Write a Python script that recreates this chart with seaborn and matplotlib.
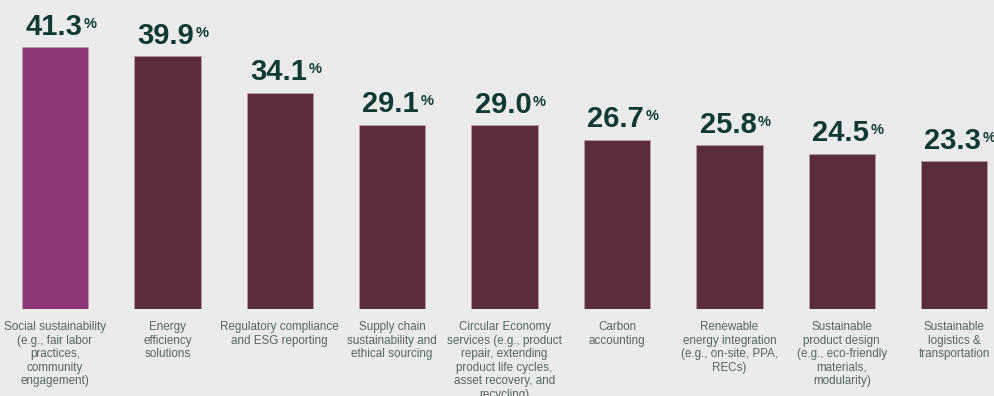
import matplotlib
matplotlib.use("Agg")
import matplotlib.pyplot as plt
import seaborn as sns

categories = [
    "Social sustainability\n(e.g., fair labor\npractices,\ncommunity\nengagement)",
    "Energy\nefficiency\nsolutions",
    "Regulatory compliance\nand ESG reporting",
    "Supply chain\nsustainability and\nethical sourcing",
    "Circular Economy\nservices (e.g., product\nrepair, extending\nproduct life cycles,\nasset recovery, and\nrecycling)",
    "Carbon\naccounting",
    "Renewable\nenergy integration\n(e.g., on-site, PPA,\nRECs)",
    "Sustainable\nproduct design\n(e.g., eco-friendly\nmaterials,\nmodularity)",
    "Sustainable\nlogistics &\ntransportation",
]
values = [41.3, 39.9, 34.1, 29.1, 29.0, 26.7, 25.8, 24.5, 23.3]
bar_colors = ["#8E3879"] + ["#5A2C3D"] * 8

BG = "#EBEBEB"
LABEL_COLOR = "#0F3A33"
TICK_COLOR = "#55655F"

sns.set_theme(style="white")
plt.rcParams["font.family"] = ["Liberation Sans", "DejaVu Sans"]

fig = plt.figure(figsize=(9.94, 3.96), dpi=100, facecolor=BG)
ax = fig.add_axes([0, 0.2197, 1, 0.7803])
ax.set_facecolor(BG)

sns.barplot(
    x=list(range(len(values))), y=values, hue=list(range(len(values))),
    palette=bar_colors, legend=False, width=0.59, ax=ax,
    edgecolor="#B89AA8", linewidth=0.6, saturation=1,
)

ax.set_xlim(-0.489, 8.354)
ax.set_ylim(0, 48.74)
for s in ax.spines.values():
    s.set_visible(False)
ax.set_yticks([])
ax.set_xticks(range(len(categories)))
ax.set_xticklabels(categories, fontsize=8.4, color=TICK_COLOR, linespacing=1.16)
ax.tick_params(axis="x", length=0, pad=9)
ax.set_xlabel("")
ax.set_ylabel("")

for i, v in enumerate(values):
    num = ax.annotate(
        f"{v:.1f}", xy=(i, v), xytext=(-1, 9), textcoords="offset points",
        ha="center", va="baseline", fontsize=21, fontweight="bold",
        color=LABEL_COLOR,
    )
    ax.annotate(
        "%", xy=(1, 1), xycoords=num, xytext=(1, -3), textcoords="offset points",
        ha="left", va="top", fontsize=10.5, fontweight="bold",
        color=LABEL_COLOR,
    )

fig.savefig("out.png", dpi=100, facecolor=BG)
